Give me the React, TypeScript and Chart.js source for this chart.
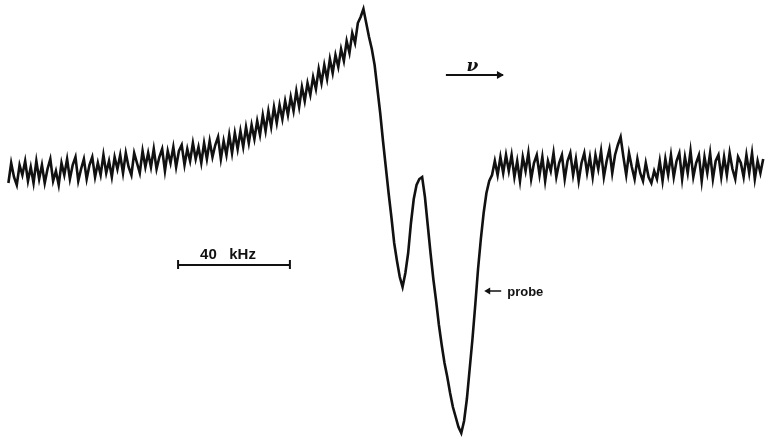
import React, { useEffect, useRef } from "react";
import { Chart, registerables } from "chart.js";

Chart.register(...registerables);

// Frequency sweep (kHz, relative), one sample per kHz starting at 1 kHz
const freqStartKHz = 1;

const signalLeftBaseline = [
  -4.5, 0.5, -3, -5, 0, -2.5, 1, -4, -0.5, -4.5,
  1, -3.5, 0, -4.5, -1, 1.5, -4, -1.5, -5, 0.5,
  -2.5, 1.5, -3.5, 0, 2, -4, -1, 1.5, -3.5, 0,
  2, -3, 0.5, -2.5, 2.5, -2, 1, -3, 2, -1,
  2.5, -2, 3, -0.5, -2.5, 3, 0.5, -2, 3.5, -0.5,
  3, -0.5, 4, -1, 2, 4, -1.5, 3.5, 0.5, 4.5,
  -0.5, 3.5, 5, 0, 4, 1, 5.5, 1.5, 4.5, 0.5,
  5.5, 1.5, 6, 2, 5, 7, 1.5, 6, 2.5, 7.5,
  3, 8, 4, 8.5, 4.5, 9.5, 5.5, 10, 6.5, 11,
  7.5, 12.5, 8.5, 13.5, 9.5, 14.5, 10.5, 15, 11.5, 16,
];
const signalRise = [
  12.5, 17, 13.5, 18.5, 14.5, 19.5, 16, 20.5, 17.5, 22,
  19, 24, 20.5, 25, 21.5, 26.5, 23, 27.5, 24.5, 29,
  26, 31, 28, 33, 30.5, 35.5, 37, 39, 35.5, 32,
];
const signalResonance = [
  29, 25, 19, 13, 6, -0.5, -7, -13, -19.5, -24,
  -28, -30.5, -27, -22, -14.5, -8.5, -5, -3.5, -3, -8,
  -15, -22, -28.5, -34, -40, -45, -49.5, -53, -57, -60.5,
  -63, -65.5, -67, -64, -58.5, -51, -43.5, -35, -26, -18.5,
  -12, -7, -4, -2.5, 1, -2.5, 2, -2, 2.5, -1.5,
];
const signalRightBaseline = [
  2.5, -3, 1, -4, 2, -1.5, 3, -3.5, 0.5, 2.5,
  -2.5, 2, -4, 1, -1.5, 3, -3, 0.5, 2.5, -3.5,
  1, 3, -2.5, 1.5, -4, 0.5, 3, -2, 2, -3,
  2.5, -1, 3.5, -3, 1, 4, -2, 2.5, 5, 7,
  2, -2.5, 3, -0.5, -3.5, 1.5, -2, -4, 0.5, -3,
  -4.5, -1.5, -3.5, 1, -4, 1.5, -2.5, 2.5, -3, 1,
  3, -3.5, 2, -2, 3.5, -3, 0.5, 2.5, -4, 2,
  -2, 3, -3.5, 1, 2.5, -3, 2, -2.5, 3, -1,
  -3.5, 2, 0.5, -3, 2.5, -2, 3, -3.5, 1, -2, 1.5,
];
const signal = [
  ...signalLeftBaseline,
  ...signalRise,
  ...signalResonance,
  ...signalRightBaseline,
];

// Annotation anchors (data units)
const scaleBarLabel = "40   kHz";
const scaleBarStart = 61.7;
const scaleBarWidth = 40;
const scaleBarLevel = -25;
const sweepLabel = "ν";
const sweepFrom = 157.5;
const sweepTo = 177.9;
const sweepLevel = 22.5;
const probeLabel = "probe";
const probeFreq = 171.2;
const probeLevel = -31.5;

export default function App() {
  const ref = useRef<HTMLCanvasElement | null>(null);

  useEffect(() => {
    if (!ref.current) return;
    const points = signal.map((v, i) => ({ x: freqStartKHz + i, y: v }));

    const annotations = {
      id: "figureAnnotations",
      afterDatasetsDraw(chart: any) {
        const { ctx, scales } = chart;
        const xs = scales.x;
        const ys = scales.y;
        ctx.save();
        ctx.strokeStyle = "#111";
        ctx.fillStyle = "#111";
        ctx.lineCap = "butt";

        // Scale bar
        const bx0 = xs.getPixelForValue(scaleBarStart);
        const bx1 = xs.getPixelForValue(scaleBarStart + scaleBarWidth);
        const by = ys.getPixelForValue(scaleBarLevel);
        ctx.lineWidth = 2;
        ctx.beginPath();
        ctx.moveTo(bx0, by);
        ctx.lineTo(bx1, by);
        ctx.moveTo(bx0, by - 5);
        ctx.lineTo(bx0, by + 4);
        ctx.moveTo(bx1, by - 5);
        ctx.lineTo(bx1, by + 4);
        ctx.stroke();
        ctx.font = "bold 15px 'Liberation Sans', Arial, sans-serif";
        ctx.textAlign = "center";
        ctx.textBaseline = "alphabetic";
        ctx.fillText(scaleBarLabel, (bx0 + bx1) / 2 - 6, by - 6);

        // Sweep direction arrow
        const ax0 = xs.getPixelForValue(sweepFrom);
        const ax1 = xs.getPixelForValue(sweepTo);
        const ay = ys.getPixelForValue(sweepLevel);
        ctx.lineWidth = 2;
        ctx.beginPath();
        ctx.moveTo(ax0, ay);
        ctx.lineTo(ax1, ay);
        ctx.stroke();
        ctx.beginPath();
        ctx.moveTo(ax1 + 1, ay);
        ctx.lineTo(ax1 - 6, ay - 4);
        ctx.lineTo(ax1 - 6, ay + 4);
        ctx.closePath();
        ctx.fill();
        ctx.font = "italic bold 17px 'DejaVu Serif', serif";
        ctx.textAlign = "center";
        ctx.fillText(sweepLabel, (ax0 + ax1) / 2 - 2, ay - 4);

        // Probe marker
        const px = xs.getPixelForValue(probeFreq);
        const py = ys.getPixelForValue(probeLevel);
        ctx.lineWidth = 1.5;
        ctx.beginPath();
        ctx.moveTo(px + 2, py);
        ctx.lineTo(px + 17, py);
        ctx.stroke();
        ctx.beginPath();
        ctx.moveTo(px, py);
        ctx.lineTo(px + 6, py - 3.5);
        ctx.lineTo(px + 6, py + 3.5);
        ctx.closePath();
        ctx.fill();
        ctx.font = "bold 13px 'Liberation Sans', Arial, sans-serif";
        ctx.textAlign = "left";
        ctx.textBaseline = "middle";
        ctx.fillText(probeLabel, px + 23, py + 1);
        ctx.restore();
      },
    };

    const chart = new Chart(ref.current, {
      type: "line",
      data: {
        datasets: [
          {
            data: points,
            borderColor: "#111",
            borderWidth: 2.6,
            pointRadius: 0,
            tension: 0,
            fill: false,
          },
        ],
      },
      options: {
        responsive: false,
        animation: false,
        layout: { padding: 0 },
        plugins: { legend: { display: false }, tooltip: { enabled: false } },
        scales: {
          x: { type: "linear", min: -2, max: 272, display: false },
          y: { type: "linear", min: -69, max: 41.25, display: false },
        },
      },
      plugins: [annotations],
    });
    return () => chart.destroy();
  }, []);

  return (
    <div style={{ position: "fixed", left: 0, top: 0, width: 766, height: 441, background: "#fff" }}>
      <canvas ref={ref} width={766} height={441} />
    </div>
  );
}
